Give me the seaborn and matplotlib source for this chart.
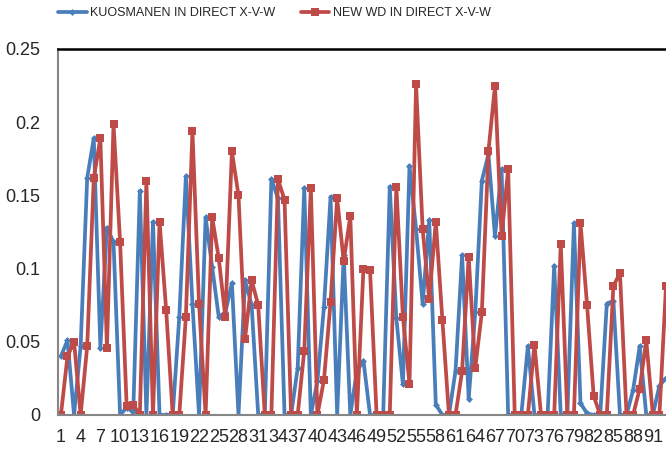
import numpy as np
import pandas as pd
import seaborn as sns
import matplotlib.pyplot as plt

# values (x = 1..93)
kuosmanen = [0.040, 0.051, 0.000, 0.047, 0.162, 0.189, 0.046, 0.128, 0.118, 0.000,
             0.005, 0.002, 0.153, 0.000, 0.132, 0.000, 0.000, 0.000, 0.067, 0.163,
             0.076, 0.000, 0.135, 0.101, 0.067, 0.070, 0.090, 0.000, 0.092, 0.075,
             0.000, 0.000, 0.161, 0.148, 0.000, 0.000, 0.032, 0.155, 0.000, 0.023,
             0.074, 0.149, 0.000, 0.109, 0.000, 0.030, 0.037, 0.000, 0.000, 0.000,
             0.156, 0.066, 0.021, 0.170, 0.127, 0.076, 0.133, 0.007, 0.000, 0.000,
             0.030, 0.109, 0.011, 0.070, 0.160, 0.178, 0.122, 0.168, 0.000, 0.000,
             0.000, 0.047, 0.000, 0.000, 0.000, 0.102, 0.000, 0.000, 0.131, 0.008,
             0.001, 0.000, 0.000, 0.076, 0.078, 0.000, 0.000, 0.017, 0.047, 0.000,
             0.000, 0.020, 0.025]
new_wd = [0.000, 0.040, 0.050, 0.000, 0.047, 0.162, 0.189, 0.046, 0.199, 0.118,
          0.006, 0.007, 0.000, 0.160, 0.000, 0.132, 0.072, 0.000, 0.000, 0.067,
          0.194, 0.076, 0.000, 0.135, 0.107, 0.067, 0.180, 0.150, 0.052, 0.092,
          0.075, 0.000, 0.000, 0.161, 0.147, 0.000, 0.000, 0.044, 0.155, 0.000,
          0.024, 0.077, 0.148, 0.105, 0.136, 0.000, 0.100, 0.099, 0.000, 0.000,
          0.000, 0.156, 0.067, 0.021, 0.226, 0.127, 0.079, 0.132, 0.065, 0.000,
          0.000, 0.030, 0.108, 0.032, 0.070, 0.180, 0.225, 0.122, 0.168, 0.000,
          0.000, 0.000, 0.048, 0.000, 0.000, 0.000, 0.117, 0.000, 0.000, 0.131,
          0.075, 0.013, 0.000, 0.000, 0.088, 0.097, 0.000, 0.000, 0.018, 0.051,
          0.000, 0.000, 0.088]
x = np.arange(1, len(kuosmanen) + 1)
names = ["KUOSMANEN IN DIRECT X-V-W", "NEW WD IN DIRECT X-V-W"]

df = pd.DataFrame({"x": x, names[0]: kuosmanen, names[1]: new_wd})

sns.set_style("white")
plt.rcParams["font.family"] = ["Liberation Sans", "DejaVu Sans"]

fig = plt.figure(figsize=(6.66, 4.51), dpi=100)
ax = fig.add_axes([0.087, 0.08, 0.913, 0.8114])

sns.lineplot(data=df, x="x", y=names[0], ax=ax, color="#4a7ebb", lw=2.7,
             marker="D", markersize=3.5, markeredgewidth=0, label=names[0])
sns.lineplot(data=df, x="x", y=names[1], ax=ax, color="#be4b48", lw=2.7,
             marker="s", markersize=5.5, markeredgewidth=0, label=names[1])

ax.set_xlim(0.55, 93.0)
ax.set_ylim(0, 0.25)
ax.set_yticks([0, 0.05, 0.1, 0.15, 0.2, 0.25])
ax.set_yticklabels(["0", "0.05", "0.1", "0.15", "0.2", "0.25"])
ax.set_xticks(x)
ax.set_xticklabels([str(v) if (v - 1) % 3 == 0 else "" for v in x])
ax.tick_params(axis="x", direction="out", length=5, width=1, color="#868686",
               labelsize=13, pad=5)
ax.tick_params(axis="y", direction="out", length=4, width=1, color="#868686",
               labelsize=13, pad=9)
ax.set_xlabel("")
ax.set_ylabel("")

for s in ["left", "bottom"]:
    ax.spines[s].set_color("#868686")
    ax.spines[s].set_linewidth(1.5)
ax.spines["top"].set_color("black")
ax.spines["top"].set_linewidth(1.8)
ax.spines["right"].set_visible(False)

ax.legend(loc="center", bbox_to_anchor=(0.412, 0.971), bbox_transform=fig.transFigure,
          ncol=2, frameon=False, fontsize=9, handlelength=2.3, columnspacing=2.0,
          handletextpad=0.3)

plt.savefig("out.png", dpi=100)
